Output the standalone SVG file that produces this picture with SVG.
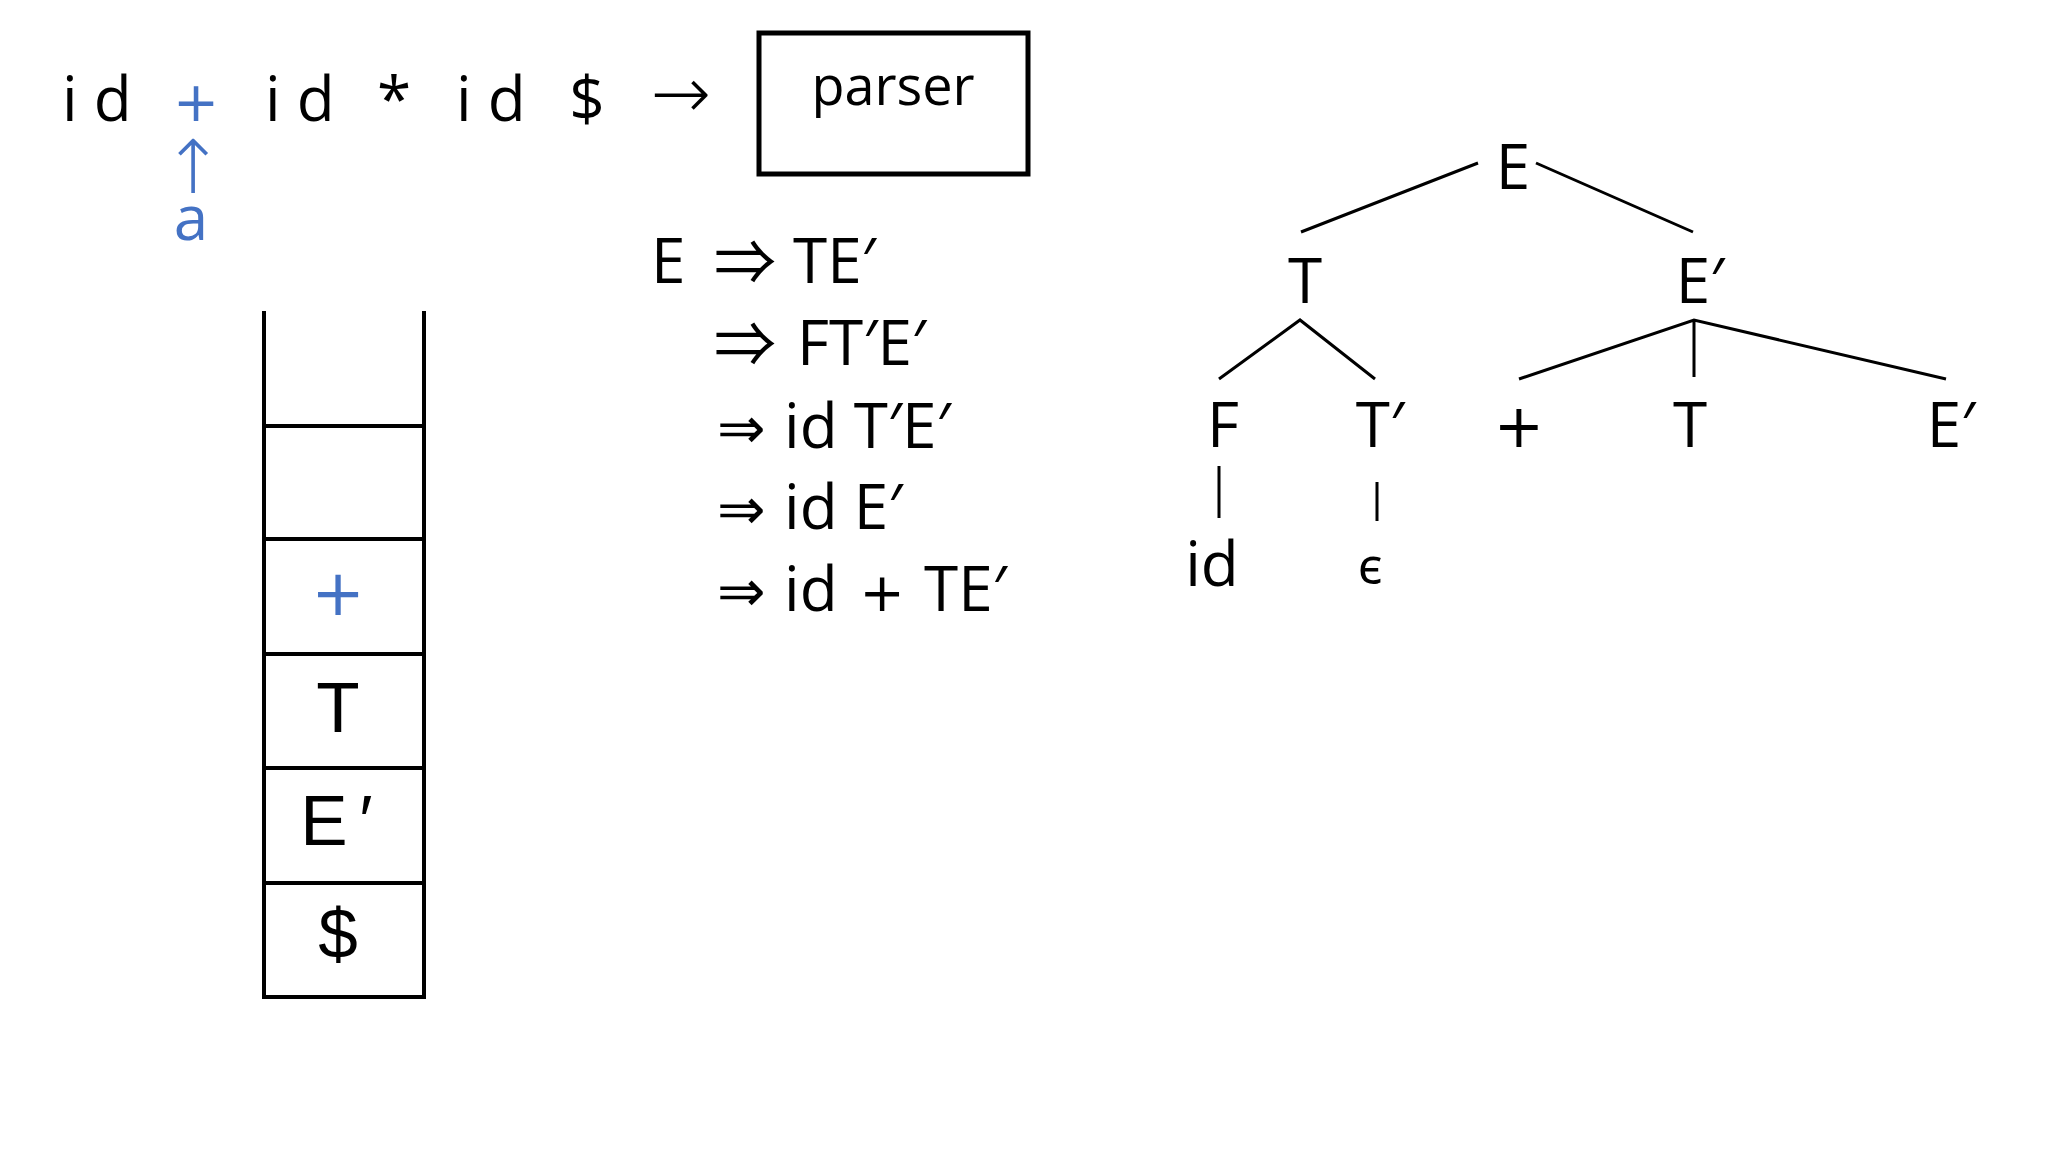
<svg xmlns="http://www.w3.org/2000/svg" width="2048" height="1152" viewBox="0 0 2048 1152">
<style>
.t{font-family:"Open Sans","Noto Sans","DejaVu Sans",sans-serif;font-size:62px;fill:#000}
.a{font-family:"Liberation Sans",Arial,sans-serif;font-size:71px;fill:#000}
.d{font-family:"DejaVu Sans",sans-serif;fill:#000}
.c{font-family:"Noto Sans CJK JP","Noto Sans CJK SC","DejaVu Sans",sans-serif;fill:#000;font-size:62px}
.l{font-weight:200}
.b{fill:#4472C4}
.m{text-anchor:middle}
.e{stroke:#000;stroke-width:3;fill:none}
.s{stroke:#000;stroke-width:4;fill:none}
</style>
<rect width="2048" height="1152" fill="#fff"/>
<g id="input">
<text class="t" x="62" y="121">i d</text>
<text class="d b m" x="196" y="121" style="font-size:55px">+</text>
<text class="t" x="265" y="121">i d</text>
<text class="t m" x="394" y="121">*</text>
<text class="t" x="456" y="121">i d</text>
<text class="t m" x="587" y="121">$</text>
<text class="d l m" x="681" y="118" style="font-size:72px">→</text>
<text class="d l b m" x="193" y="193" style="font-size:74px">↑</text>
<text class="t b m" x="191" y="240">a</text>
</g>
<g id="parser">
<rect x="759" y="33" width="269" height="141" fill="none" stroke="#000" stroke-width="5"/>
<text class="t m" x="893" y="105" style="font-size:54px">parser</text>
</g>
<g id="stack">
<path class="s" d="M264 311V997H424V311M264 426H424M264 539H424M264 654H424M264 768H424M264 883H424"/>
<text class="d b m" x="338" y="615" style="font-size:64px">+</text>
<text class="a m" x="338" y="732">T</text>
<text class="a m" x="324" y="845">E</text>
<text class="a m" x="366" y="845">′</text>
<text class="a m" x="338" y="958">$</text>
</g>
<g id="derivation">
<text class="t" x="651" y="283">E</text>
<text class="c m" x="745" y="285">⇒</text>
<text class="t" x="793" y="283">TE′</text>
<text class="c m" x="745" y="367">⇒</text>
<text class="t" x="797" y="365">FT′E′</text>
<text class="d" x="717" y="448" style="font-size:58px">⇒</text>
<text class="t" x="784" y="448">id T′E′</text>
<text class="d" x="717" y="529" style="font-size:58px">⇒</text>
<text class="t" x="784" y="529">id E′</text>
<text class="d" x="717" y="611" style="font-size:58px">⇒</text>
<text class="t" x="784" y="611">id</text>
<text class="d m" x="882" y="611" style="font-size:54px">+</text>
<text class="t" x="924" y="611">TE′</text>
</g>
<g id="tree">
<g id="n-E"><text class="t m" x="1513" y="189">E</text></g>
<g id="n-T"><text class="t m" x="1305" y="303">T</text></g>
<g id="n-E1"><text class="t m" x="1700" y="303">E′</text></g>
<g id="n-F"><text class="t m" x="1223" y="447">F</text></g>
<g id="n-T1"><text class="t m" x="1380" y="447">T′</text></g>
<g id="n-plus"><text class="d m" x="1519" y="447" style="font-size:60px">+</text></g>
<g id="n-T2"><text class="t m" x="1690" y="447">T</text></g>
<g id="n-E2"><text class="t m" x="1951" y="447">E′</text></g>
<g id="n-id"><text class="t m" x="1212" y="586">id</text></g>
<g id="n-eps"><text class="t m" x="1370" y="584" style="font-size:50px">ϵ</text></g>
</g>
<g id="edges">
<path class="e" d="M1478 163L1301 232M1536 163L1693 232M1219 379L1300 320L1375 379M1519 379L1694 320L1946 379M1694 320V377M1219 466V518M1377 482V521"/>
</g>
</svg>
